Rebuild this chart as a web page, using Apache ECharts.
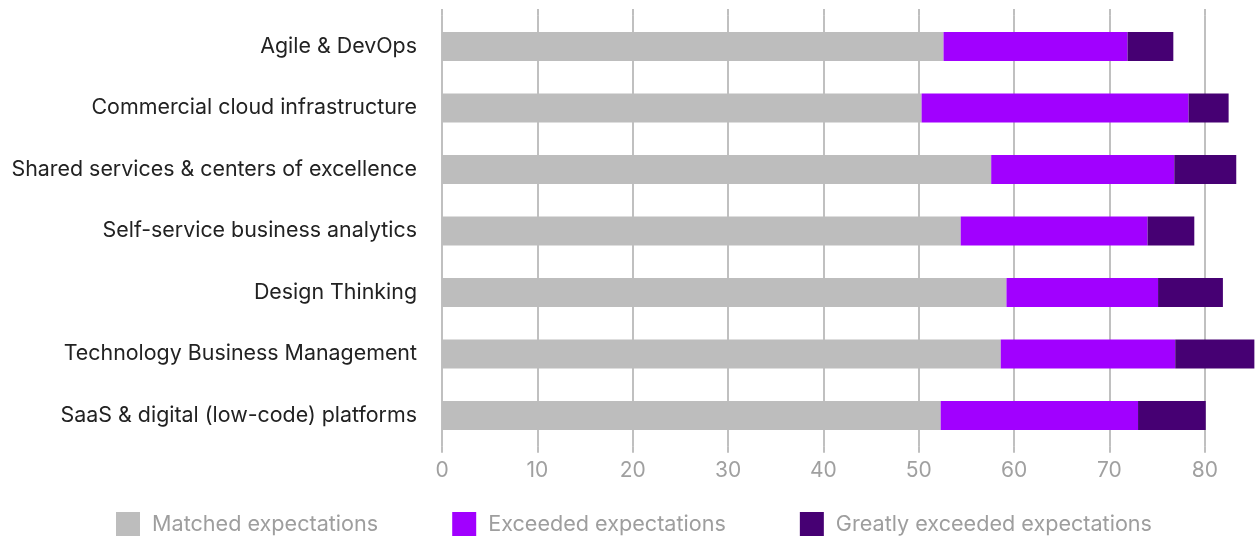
<!DOCTYPE html>
<html>
<head>
<meta charset="utf-8">
<script src="https://cdn.jsdelivr.net/npm/echarts@6/dist/echarts.min.js"></script>
<style>
html,body{margin:0;padding:0;background:#fff;overflow:hidden;width:1255px;height:538px;}
#chart{width:1262px;height:538px;}
</style>
</head>
<body>
<div id="chart"></div>
<script>
const categories = [
  "Agile & DevOps",
  "Commercial cloud infrastructure",
  "Shared services & centers of excellence",
  "Self-service business analytics",
  "Design Thinking",
  "Technology Business Management",
  "SaaS & digital (low-code) platforms"
];
const seriesNames = ["Matched expectations", "Exceeded expectations", "Greatly exceeded expectations"];
const matched  = [52.6, 50.3, 57.6, 54.4, 59.2, 58.6, 52.3];
const exceeded = [19.3, 28.0, 19.2, 19.6, 15.9, 18.3, 20.7];
const greatly  = [4.8, 4.2, 6.5, 4.9, 6.8, 8.3, 7.1];
const colors = ["#bdbdbd", "#a100ff", "#460073"];

const FONT = "Inter, 'Noto Sans', sans-serif";
const gridColor = "#ababab";
const axisMax = 86;

const chart = echarts.init(document.getElementById('chart'), null, {renderer: 'canvas'});
const seriesData = [matched, exceeded, greatly];
chart.setOption({
  animation: false,
  color: colors,
  grid: {left: 442, right: 0, top: 15.75, bottom: 91.75, containLabel: false},
  legend: {
    left: 111, top: 507, itemWidth: 24, itemHeight: 24, itemGap: 74,
    icon: 'rect',
    data: seriesNames,
    textStyle: {fontFamily: FONT, fontSize: 21.6, color: '#9e9e9e', padding: [0,0,0,7]}
  },
  xAxis: [{
    type: 'value', min: 0, max: axisMax, interval: 10,
    axisLine: {show: false},
    axisTick: {show: true, length: 6.5, lineStyle: {color: gridColor, width: 1.5}},
    splitLine: {show: true, lineStyle: {color: gridColor, width: 1.5}},
    axisLabel: {fontFamily: FONT, fontSize: 21, color: '#a0a0a0', margin: 14, showMaxLabel: false}
  }, {
    type: 'value', min: 0, max: axisMax, interval: 10, position: 'top',
    axisLine: {show: false},
    axisTick: {show: true, length: 6.75, lineStyle: {color: gridColor, width: 1.5}},
    splitLine: {show: false},
    axisLabel: {show: false}
  }],
  yAxis: {
    type: 'category', data: categories, inverse: true,
    axisLine: {show: false}, axisTick: {show: false},
    axisLabel: {fontFamily: FONT, fontSize: 21.4, color: '#222', margin: 25}
  },
  series: seriesNames.map((n, i) => ({
    name: n, type: 'bar', stack: 'total', barWidth: 29,
    data: seriesData[i],
    itemStyle: {color: colors[i]}
  }))
});
</script>
</body>
</html>
